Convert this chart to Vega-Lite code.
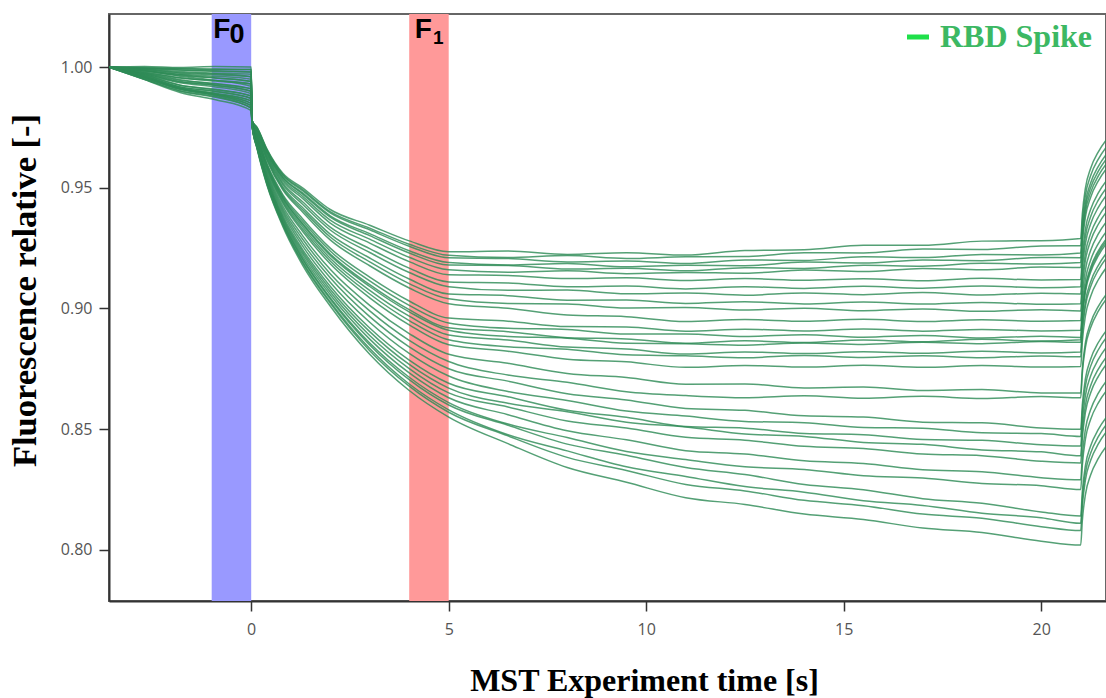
{
"$schema": "https://vega.github.io/schema/vega-lite/v6.json",
"width": 997, "height": 587,
"autosize": {"type": "none"},
"padding": {"left": 109, "top": 14, "right": 0, "bottom": 97},
"background": "white",
"config": {
 "view": {"stroke": "#666666", "strokeWidth": 2},
 "axis": {"grid": false, "domainColor": "#333333", "domainWidth": 2, "tickColor": "#333333", "tickWidth": 1.5, "tickSize": 10, "labelFont": "Open Sans", "labelFontSize": 16, "labelColor": "#555555", "titleFont": "Liberation Serif", "titleFontSize": 32, "titleFontWeight": "bold", "titleColor": "#000000"},
 "axisX": {"labelPadding": 10, "titleX": 535, "titleY": 89, "titleBaseline": "alphabetic", "titleAlign": "center"},
 "axisY": {"labelPadding": 7, "titleX": -74, "titleY": 276, "titleAngle": 270, "titleAlign": "center", "titleBaseline": "alphabetic", "titleFontSize": 34.5}
},
"datasets": {
"traces": [
{"s":1,"t":-3.6,"f":1},{"s":1,"t":-2.7,"f":0.9985},{"s":1,"t":-1.8,"f":0.9962},{"s":1,"t":-0.9,"f":0.9945},{"s":1,"t":0,"f":0.992},{"s":1,"t":0.02,"f":0.978},{"s":1,"t":0.15,"f":0.975},{"s":1,"t":0.4,"f":0.966},{"s":1,"t":0.8,"f":0.956},{"s":1,"t":1.3,"f":0.95},{"s":1,"t":2,"f":0.941},{"s":1,"t":3,"f":0.9345},{"s":1,"t":4,"f":0.928},{"s":1,"t":5,"f":0.9235},{"s":1,"t":6.5,"f":0.9238},{"s":1,"t":8,"f":0.9224},{"s":1,"t":9.5,"f":0.9231},{"s":1,"t":11,"f":0.9221},{"s":1,"t":12.5,"f":0.924},{"s":1,"t":14,"f":0.9243},{"s":1,"t":15.5,"f":0.9262},{"s":1,"t":17,"f":0.9262},{"s":1,"t":18.5,"f":0.9279},{"s":1,"t":20,"f":0.9281},{"s":1,"t":21,"f":0.929},{"s":1,"t":21.04,"f":0.939},{"s":1,"t":21.12,"f":0.95},{"s":1,"t":21.25,"f":0.958},{"s":1,"t":21.45,"f":0.965},{"s":1,"t":21.7,"f":0.971},
{"s":2,"t":-3.6,"f":1},{"s":2,"t":-2.7,"f":0.9968},{"s":2,"t":-1.8,"f":0.9925},{"s":2,"t":-0.9,"f":0.9905},{"s":2,"t":0,"f":0.988},{"s":2,"t":0.02,"f":0.978},{"s":2,"t":0.15,"f":0.9748},{"s":2,"t":0.4,"f":0.9657},{"s":2,"t":0.8,"f":0.9555},{"s":2,"t":1.3,"f":0.9493},{"s":2,"t":2,"f":0.9401},{"s":2,"t":3,"f":0.9333},{"s":2,"t":4,"f":0.9266},{"s":2,"t":5,"f":0.922},{"s":2,"t":6.5,"f":0.9211},{"s":2,"t":8,"f":0.9219},{"s":2,"t":9.5,"f":0.9207},{"s":2,"t":11,"f":0.9214},{"s":2,"t":12.5,"f":0.9215},{"s":2,"t":14,"f":0.9231},{"s":2,"t":15.5,"f":0.923},{"s":2,"t":17,"f":0.9246},{"s":2,"t":18.5,"f":0.9244},{"s":2,"t":20,"f":0.9259},{"s":2,"t":21,"f":0.926},{"s":2,"t":21.04,"f":0.936},{"s":2,"t":21.12,"f":0.947},{"s":2,"t":21.25,"f":0.955},{"s":2,"t":21.45,"f":0.962},{"s":2,"t":21.7,"f":0.968},
{"s":3,"t":-3.6,"f":1},{"s":3,"t":-2.7,"f":0.999},{"s":3,"t":-1.8,"f":0.9978},{"s":3,"t":-0.9,"f":0.9972},{"s":3,"t":0,"f":0.996},{"s":3,"t":0.02,"f":0.9779},{"s":3,"t":0.15,"f":0.9747},{"s":3,"t":0.4,"f":0.9655},{"s":3,"t":0.8,"f":0.9552},{"s":3,"t":1.3,"f":0.9488},{"s":3,"t":2,"f":0.9396},{"s":3,"t":3,"f":0.9326},{"s":3,"t":4,"f":0.9258},{"s":3,"t":5,"f":0.921},{"s":3,"t":6.5,"f":0.9207},{"s":3,"t":8,"f":0.9193},{"s":3,"t":9.5,"f":0.9197},{"s":3,"t":11,"f":0.9186},{"s":3,"t":12.5,"f":0.9201},{"s":3,"t":14,"f":0.9199},{"s":3,"t":15.5,"f":0.9214},{"s":3,"t":17,"f":0.9211},{"s":3,"t":18.5,"f":0.9224},{"s":3,"t":20,"f":0.9222},{"s":3,"t":21,"f":0.923},{"s":3,"t":21.04,"f":0.933},{"s":3,"t":21.12,"f":0.944},{"s":3,"t":21.25,"f":0.952},{"s":3,"t":21.45,"f":0.959},{"s":3,"t":21.7,"f":0.965},
{"s":4,"t":-3.6,"f":1},{"s":4,"t":-2.7,"f":0.9958},{"s":4,"t":-1.8,"f":0.9912},{"s":4,"t":-0.9,"f":0.9888},{"s":4,"t":0,"f":0.985},{"s":4,"t":0.02,"f":0.9779},{"s":4,"t":0.15,"f":0.9744},{"s":4,"t":0.4,"f":0.965},{"s":4,"t":0.8,"f":0.9545},{"s":4,"t":1.3,"f":0.9479},{"s":4,"t":2,"f":0.9384},{"s":4,"t":3,"f":0.931},{"s":4,"t":4,"f":0.9239},{"s":4,"t":5,"f":0.919},{"s":4,"t":6.5,"f":0.918},{"s":4,"t":8,"f":0.9186},{"s":4,"t":9.5,"f":0.9173},{"s":4,"t":11,"f":0.9179},{"s":4,"t":12.5,"f":0.9177},{"s":4,"t":14,"f":0.9192},{"s":4,"t":15.5,"f":0.9188},{"s":4,"t":17,"f":0.9201},{"s":4,"t":18.5,"f":0.9198},{"s":4,"t":20,"f":0.9211},{"s":4,"t":21,"f":0.921},{"s":4,"t":21.04,"f":0.931},{"s":4,"t":21.12,"f":0.942},{"s":4,"t":21.25,"f":0.95},{"s":4,"t":21.45,"f":0.957},{"s":4,"t":21.7,"f":0.963},
{"s":5,"t":-3.6,"f":1},{"s":5,"t":-2.7,"f":0.9996},{"s":5,"t":-1.8,"f":0.9993},{"s":5,"t":-0.9,"f":0.999},{"s":5,"t":0,"f":0.999},{"s":5,"t":0.02,"f":0.9778},{"s":5,"t":0.15,"f":0.9743},{"s":5,"t":0.4,"f":0.9648},{"s":5,"t":0.8,"f":0.9542},{"s":5,"t":1.3,"f":0.9474},{"s":5,"t":2,"f":0.9378},{"s":5,"t":3,"f":0.9302},{"s":5,"t":4,"f":0.923},{"s":5,"t":5,"f":0.918},{"s":5,"t":6.5,"f":0.9178},{"s":5,"t":8,"f":0.9163},{"s":5,"t":9.5,"f":0.9167},{"s":5,"t":11,"f":0.9156},{"s":5,"t":12.5,"f":0.9169},{"s":5,"t":14,"f":0.9166},{"s":5,"t":15.5,"f":0.9179},{"s":5,"t":17,"f":0.9175},{"s":5,"t":18.5,"f":0.9187},{"s":5,"t":20,"f":0.9184},{"s":5,"t":21,"f":0.919},{"s":5,"t":21.04,"f":0.929},{"s":5,"t":21.12,"f":0.94},{"s":5,"t":21.25,"f":0.948},{"s":5,"t":21.45,"f":0.955},{"s":5,"t":21.7,"f":0.961},
{"s":6,"t":-3.6,"f":1},{"s":6,"t":-2.7,"f":0.9972},{"s":6,"t":-1.8,"f":0.994},{"s":6,"t":-0.9,"f":0.9925},{"s":6,"t":0,"f":0.99},{"s":6,"t":0.02,"f":0.9778},{"s":6,"t":0.15,"f":0.974},{"s":6,"t":0.4,"f":0.9644},{"s":6,"t":0.8,"f":0.9536},{"s":6,"t":1.3,"f":0.9465},{"s":6,"t":2,"f":0.9366},{"s":6,"t":3,"f":0.9287},{"s":6,"t":4,"f":0.9212},{"s":6,"t":5,"f":0.916},{"s":6,"t":6.5,"f":0.915},{"s":6,"t":8,"f":0.9156},{"s":6,"t":9.5,"f":0.9144},{"s":6,"t":11,"f":0.9149},{"s":6,"t":12.5,"f":0.9146},{"s":6,"t":14,"f":0.9159},{"s":6,"t":15.5,"f":0.9153},{"s":6,"t":17,"f":0.9166},{"s":6,"t":18.5,"f":0.916},{"s":6,"t":20,"f":0.9172},{"s":6,"t":21,"f":0.917},{"s":6,"t":21.04,"f":0.927},{"s":6,"t":21.12,"f":0.938},{"s":6,"t":21.25,"f":0.946},{"s":6,"t":21.45,"f":0.953},{"s":6,"t":21.7,"f":0.959},
{"s":7,"t":-3.6,"f":1},{"s":7,"t":-2.7,"f":0.995},{"s":7,"t":-1.8,"f":0.9902},{"s":7,"t":-0.9,"f":0.9878},{"s":7,"t":0,"f":0.983},{"s":7,"t":0.02,"f":0.9777},{"s":7,"t":0.15,"f":0.9737},{"s":7,"t":0.4,"f":0.9639},{"s":7,"t":0.8,"f":0.9529},{"s":7,"t":1.3,"f":0.9456},{"s":7,"t":2,"f":0.9354},{"s":7,"t":3,"f":0.9271},{"s":7,"t":4,"f":0.9194},{"s":7,"t":5,"f":0.914},{"s":7,"t":6.5,"f":0.9137},{"s":7,"t":8,"f":0.9124},{"s":7,"t":9.5,"f":0.9127},{"s":7,"t":11,"f":0.9116},{"s":7,"t":12.5,"f":0.9124},{"s":7,"t":14,"f":0.9117},{"s":7,"t":15.5,"f":0.9123},{"s":7,"t":17,"f":0.9115},{"s":7,"t":18.5,"f":0.9125},{"s":7,"t":20,"f":0.9118},{"s":7,"t":21,"f":0.912},{"s":7,"t":21.04,"f":0.922},{"s":7,"t":21.12,"f":0.933},{"s":7,"t":21.25,"f":0.941},{"s":7,"t":21.45,"f":0.948},{"s":7,"t":21.7,"f":0.954},
{"s":8,"t":-3.6,"f":1},{"s":8,"t":-2.7,"f":0.9985},{"s":8,"t":-1.8,"f":0.9968},{"s":8,"t":-0.9,"f":0.9955},{"s":8,"t":0,"f":0.994},{"s":8,"t":0.02,"f":0.9776},{"s":8,"t":0.15,"f":0.9734},{"s":8,"t":0.4,"f":0.9633},{"s":8,"t":0.8,"f":0.952},{"s":8,"t":1.3,"f":0.9442},{"s":8,"t":2,"f":0.9337},{"s":8,"t":3,"f":0.9248},{"s":8,"t":4,"f":0.9167},{"s":8,"t":5,"f":0.911},{"s":8,"t":6.5,"f":0.9106},{"s":8,"t":8,"f":0.909},{"s":8,"t":9.5,"f":0.9093},{"s":8,"t":11,"f":0.9081},{"s":8,"t":12.5,"f":0.909},{"s":8,"t":14,"f":0.9083},{"s":8,"t":15.5,"f":0.9092},{"s":8,"t":17,"f":0.9084},{"s":8,"t":18.5,"f":0.9093},{"s":8,"t":20,"f":0.9086},{"s":8,"t":21,"f":0.909},{"s":8,"t":21.04,"f":0.919},{"s":8,"t":21.12,"f":0.93},{"s":8,"t":21.25,"f":0.938},{"s":8,"t":21.45,"f":0.945},{"s":8,"t":21.7,"f":0.951},
{"s":9,"t":-3.6,"f":1},{"s":9,"t":-2.7,"f":0.9962},{"s":9,"t":-1.8,"f":0.9918},{"s":9,"t":-0.9,"f":0.9898},{"s":9,"t":0,"f":0.987},{"s":9,"t":0.02,"f":0.9776},{"s":9,"t":0.15,"f":0.9731},{"s":9,"t":0.4,"f":0.9628},{"s":9,"t":0.8,"f":0.9513},{"s":9,"t":1.3,"f":0.9432},{"s":9,"t":2,"f":0.9325},{"s":9,"t":3,"f":0.9232},{"s":9,"t":4,"f":0.9149},{"s":9,"t":5,"f":0.909},{"s":9,"t":6.5,"f":0.9075},{"s":9,"t":8,"f":0.9076},{"s":9,"t":9.5,"f":0.9061},{"s":9,"t":11,"f":0.9064},{"s":9,"t":12.5,"f":0.9055},{"s":9,"t":14,"f":0.9064},{"s":9,"t":15.5,"f":0.9057},{"s":9,"t":17,"f":0.9066},{"s":9,"t":18.5,"f":0.9056},{"s":9,"t":20,"f":0.9063},{"s":9,"t":21,"f":0.906},{"s":9,"t":21.04,"f":0.916},{"s":9,"t":21.12,"f":0.927},{"s":9,"t":21.25,"f":0.935},{"s":9,"t":21.45,"f":0.942},{"s":9,"t":21.7,"f":0.948},
{"s":10,"t":-3.6,"f":1},{"s":10,"t":-2.7,"f":0.9992},{"s":10,"t":-1.8,"f":0.9982},{"s":10,"t":-0.9,"f":0.9975},{"s":10,"t":0,"f":0.997},{"s":10,"t":0.02,"f":0.9775},{"s":10,"t":0.15,"f":0.9727},{"s":10,"t":0.4,"f":0.9622},{"s":10,"t":0.8,"f":0.9504},{"s":10,"t":1.3,"f":0.9418},{"s":10,"t":2,"f":0.9308},{"s":10,"t":3,"f":0.9209},{"s":10,"t":4,"f":0.9122},{"s":10,"t":5,"f":0.906},{"s":10,"t":6.5,"f":0.9053},{"s":10,"t":8,"f":0.9034},{"s":10,"t":9.5,"f":0.9035},{"s":10,"t":11,"f":0.9021},{"s":10,"t":12.5,"f":0.9028},{"s":10,"t":14,"f":0.9019},{"s":10,"t":15.5,"f":0.9027},{"s":10,"t":17,"f":0.9018},{"s":10,"t":18.5,"f":0.9025},{"s":10,"t":20,"f":0.9017},{"s":10,"t":21,"f":0.902},{"s":10,"t":21.04,"f":0.912},{"s":10,"t":21.12,"f":0.923},{"s":10,"t":21.25,"f":0.931},{"s":10,"t":21.45,"f":0.938},{"s":10,"t":21.7,"f":0.944},
{"s":11,"t":-3.6,"f":1},{"s":11,"t":-2.7,"f":0.9976},{"s":11,"t":-1.8,"f":0.9948},{"s":11,"t":-0.9,"f":0.993},{"s":11,"t":0,"f":0.991},{"s":11,"t":0.02,"f":0.9774},{"s":11,"t":0.15,"f":0.9724},{"s":11,"t":0.4,"f":0.9617},{"s":11,"t":0.8,"f":0.9497},{"s":11,"t":1.3,"f":0.9409},{"s":11,"t":2,"f":0.9296},{"s":11,"t":3,"f":0.9193},{"s":11,"t":4,"f":0.9103},{"s":11,"t":5,"f":0.904},{"s":11,"t":6.5,"f":0.9021},{"s":11,"t":8,"f":0.9019},{"s":11,"t":9.5,"f":0.9002},{"s":11,"t":11,"f":0.9004},{"s":11,"t":12.5,"f":0.8994},{"s":11,"t":14,"f":0.9001},{"s":11,"t":15.5,"f":0.8991},{"s":11,"t":17,"f":0.8998},{"s":11,"t":18.5,"f":0.8988},{"s":11,"t":20,"f":0.8995},{"s":11,"t":21,"f":0.899},{"s":11,"t":21.04,"f":0.909},{"s":11,"t":21.12,"f":0.92},{"s":11,"t":21.25,"f":0.928},{"s":11,"t":21.45,"f":0.935},{"s":11,"t":21.7,"f":0.941},
{"s":12,"t":-3.6,"f":1},{"s":12,"t":-2.7,"f":0.9955},{"s":12,"t":-1.8,"f":0.9908},{"s":12,"t":-0.9,"f":0.9882},{"s":12,"t":0,"f":0.984},{"s":12,"t":0.02,"f":0.9774},{"s":12,"t":0.15,"f":0.9722},{"s":12,"t":0.4,"f":0.9613},{"s":12,"t":0.8,"f":0.9491},{"s":12,"t":1.3,"f":0.94},{"s":12,"t":2,"f":0.9284},{"s":12,"t":3,"f":0.9177},{"s":12,"t":4,"f":0.9085},{"s":12,"t":5,"f":0.902},{"s":12,"t":6.5,"f":0.9001},{"s":12,"t":8,"f":0.8973},{"s":12,"t":9.5,"f":0.8966},{"s":12,"t":11,"f":0.8946},{"s":12,"t":12.5,"f":0.8954},{"s":12,"t":14,"f":0.8947},{"s":12,"t":15.5,"f":0.8955},{"s":12,"t":17,"f":0.8946},{"s":12,"t":18.5,"f":0.8953},{"s":12,"t":20,"f":0.8947},{"s":12,"t":21,"f":0.895},{"s":12,"t":21.04,"f":0.905},{"s":12,"t":21.12,"f":0.916},{"s":12,"t":21.25,"f":0.924},{"s":12,"t":21.45,"f":0.931},{"s":12,"t":21.7,"f":0.937},
{"s":13,"t":-3.6,"f":1},{"s":13,"t":-2.7,"f":0.9995},{"s":13,"t":-1.8,"f":0.9988},{"s":13,"t":-0.9,"f":0.9985},{"s":13,"t":0,"f":0.998},{"s":13,"t":0.02,"f":0.9772},{"s":13,"t":0.15,"f":0.9714},{"s":13,"t":0.4,"f":0.96},{"s":13,"t":0.8,"f":0.9472},{"s":13,"t":1.3,"f":0.9372},{"s":13,"t":2,"f":0.925},{"s":13,"t":3,"f":0.913},{"s":13,"t":4,"f":0.9031},{"s":13,"t":5,"f":0.896},{"s":13,"t":6.5,"f":0.8947},{"s":13,"t":8,"f":0.8925},{"s":13,"t":9.5,"f":0.8923},{"s":13,"t":11,"f":0.8906},{"s":13,"t":12.5,"f":0.8914},{"s":13,"t":14,"f":0.8907},{"s":13,"t":15.5,"f":0.8915},{"s":13,"t":17,"f":0.8906},{"s":13,"t":18.5,"f":0.8913},{"s":13,"t":20,"f":0.8907},{"s":13,"t":21,"f":0.891},{"s":13,"t":21.04,"f":0.901},{"s":13,"t":21.12,"f":0.912},{"s":13,"t":21.25,"f":0.92},{"s":13,"t":21.45,"f":0.927},{"s":13,"t":21.7,"f":0.933},
{"s":14,"t":-3.6,"f":1},{"s":14,"t":-2.7,"f":0.9968},{"s":14,"t":-1.8,"f":0.9935},{"s":14,"t":-0.9,"f":0.9918},{"s":14,"t":0,"f":0.989},{"s":14,"t":0.02,"f":0.9771},{"s":14,"t":0.15,"f":0.9711},{"s":14,"t":0.4,"f":0.9595},{"s":14,"t":0.8,"f":0.9465},{"s":14,"t":1.3,"f":0.9362},{"s":14,"t":2,"f":0.9238},{"s":14,"t":3,"f":0.9114},{"s":14,"t":4,"f":0.9013},{"s":14,"t":5,"f":0.894},{"s":14,"t":6.5,"f":0.8918},{"s":14,"t":8,"f":0.8913},{"s":14,"t":9.5,"f":0.8894},{"s":14,"t":11,"f":0.8894},{"s":14,"t":12.5,"f":0.8884},{"s":14,"t":14,"f":0.8891},{"s":14,"t":15.5,"f":0.8881},{"s":14,"t":17,"f":0.8888},{"s":14,"t":18.5,"f":0.8878},{"s":14,"t":20,"f":0.8885},{"s":14,"t":21,"f":0.888},{"s":14,"t":21.04,"f":0.898},{"s":14,"t":21.12,"f":0.909},{"s":14,"t":21.25,"f":0.917},{"s":14,"t":21.45,"f":0.924},{"s":14,"t":21.7,"f":0.93},
{"s":15,"t":-3.6,"f":1},{"s":15,"t":-2.7,"f":0.998},{"s":15,"t":-1.8,"f":0.9955},{"s":15,"t":-0.9,"f":0.9945},{"s":15,"t":0,"f":0.993},{"s":15,"t":0.02,"f":0.9771},{"s":15,"t":0.15,"f":0.9709},{"s":15,"t":0.4,"f":0.9591},{"s":15,"t":0.8,"f":0.9459},{"s":15,"t":1.3,"f":0.9353},{"s":15,"t":2,"f":0.9226},{"s":15,"t":3,"f":0.9099},{"s":15,"t":4,"f":0.8995},{"s":15,"t":5,"f":0.892},{"s":15,"t":6.5,"f":0.8904},{"s":15,"t":8,"f":0.8879},{"s":15,"t":9.5,"f":0.8874},{"s":15,"t":11,"f":0.8856},{"s":15,"t":12.5,"f":0.8866},{"s":15,"t":14,"f":0.8859},{"s":15,"t":15.5,"f":0.8869},{"s":15,"t":17,"f":0.8862},{"s":15,"t":18.5,"f":0.8872},{"s":15,"t":20,"f":0.8865},{"s":15,"t":21,"f":0.887},{"s":15,"t":21.04,"f":0.897},{"s":15,"t":21.12,"f":0.908},{"s":15,"t":21.25,"f":0.916},{"s":15,"t":21.45,"f":0.923},{"s":15,"t":21.7,"f":0.929},
{"s":16,"t":-3.6,"f":1},{"s":16,"t":-2.7,"f":0.996},{"s":16,"t":-1.8,"f":0.9912},{"s":16,"t":-0.9,"f":0.989},{"s":16,"t":0,"f":0.986},{"s":16,"t":0.02,"f":0.9771},{"s":16,"t":0.15,"f":0.9707},{"s":16,"t":0.4,"f":0.9589},{"s":16,"t":0.8,"f":0.9456},{"s":16,"t":1.3,"f":0.9348},{"s":16,"t":2,"f":0.922},{"s":16,"t":3,"f":0.9091},{"s":16,"t":4,"f":0.8986},{"s":16,"t":5,"f":0.891},{"s":16,"t":6.5,"f":0.8884},{"s":16,"t":8,"f":0.8877},{"s":16,"t":9.5,"f":0.8856},{"s":16,"t":11,"f":0.8854},{"s":16,"t":12.5,"f":0.8848},{"s":16,"t":14,"f":0.8857},{"s":16,"t":15.5,"f":0.8851},{"s":16,"t":17,"f":0.886},{"s":16,"t":18.5,"f":0.8854},{"s":16,"t":20,"f":0.8863},{"s":16,"t":21,"f":0.886},{"s":16,"t":21.04,"f":0.896},{"s":16,"t":21.12,"f":0.907},{"s":16,"t":21.25,"f":0.915},{"s":16,"t":21.45,"f":0.922},{"s":16,"t":21.7,"f":0.928},
{"s":17,"t":-3.6,"f":1},{"s":17,"t":-2.7,"f":1.0003},{"s":17,"t":-1.8,"f":0.9998},{"s":17,"t":-0.9,"f":1.0002},{"s":17,"t":0,"f":1},{"s":17,"t":0.02,"f":0.977},{"s":17,"t":0.15,"f":0.9705},{"s":17,"t":0.4,"f":0.9584},{"s":17,"t":0.8,"f":0.9449},{"s":17,"t":1.3,"f":0.9339},{"s":17,"t":2,"f":0.9208},{"s":17,"t":3,"f":0.9075},{"s":17,"t":4,"f":0.8968},{"s":17,"t":5,"f":0.889},{"s":17,"t":6.5,"f":0.8869},{"s":17,"t":8,"f":0.884},{"s":17,"t":9.5,"f":0.8832},{"s":17,"t":11,"f":0.8811},{"s":17,"t":12.5,"f":0.882},{"s":17,"t":14,"f":0.8813},{"s":17,"t":15.5,"f":0.8821},{"s":17,"t":17,"f":0.8814},{"s":17,"t":18.5,"f":0.8823},{"s":17,"t":20,"f":0.8816},{"s":17,"t":21,"f":0.882},{"s":17,"t":21.04,"f":0.892},{"s":17,"t":21.12,"f":0.903},{"s":17,"t":21.25,"f":0.911},{"s":17,"t":21.45,"f":0.918},{"s":17,"t":21.7,"f":0.924},
{"s":18,"t":-3.6,"f":1},{"s":18,"t":-2.7,"f":0.9948},{"s":18,"t":-1.8,"f":0.9895},{"s":18,"t":-0.9,"f":0.9865},{"s":18,"t":0,"f":0.982},{"s":18,"t":0.02,"f":0.9769},{"s":18,"t":0.15,"f":0.9702},{"s":18,"t":0.4,"f":0.958},{"s":18,"t":0.8,"f":0.9443},{"s":18,"t":1.3,"f":0.9329},{"s":18,"t":2,"f":0.9197},{"s":18,"t":3,"f":0.906},{"s":18,"t":4,"f":0.895},{"s":18,"t":5,"f":0.887},{"s":18,"t":6.5,"f":0.8841},{"s":18,"t":8,"f":0.8831},{"s":18,"t":9.5,"f":0.8808},{"s":18,"t":11,"f":0.8804},{"s":18,"t":12.5,"f":0.8796},{"s":18,"t":14,"f":0.8805},{"s":18,"t":15.5,"f":0.8797},{"s":18,"t":17,"f":0.8804},{"s":18,"t":18.5,"f":0.8796},{"s":18,"t":20,"f":0.8803},{"s":18,"t":21,"f":0.88},{"s":18,"t":21.04,"f":0.89},{"s":18,"t":21.12,"f":0.901},{"s":18,"t":21.25,"f":0.909},{"s":18,"t":21.45,"f":0.916},{"s":18,"t":21.7,"f":0.922},
{"s":19,"t":-3.6,"f":1},{"s":19,"t":-2.7,"f":0.9986},{"s":19,"t":-1.8,"f":0.997},{"s":19,"t":-0.9,"f":0.9962},{"s":19,"t":0,"f":0.995},{"s":19,"t":0.02,"f":0.9769},{"s":19,"t":0.15,"f":0.9699},{"s":19,"t":0.4,"f":0.9576},{"s":19,"t":0.8,"f":0.9436},{"s":19,"t":1.3,"f":0.932},{"s":19,"t":2,"f":0.9185},{"s":19,"t":3,"f":0.9044},{"s":19,"t":4,"f":0.8932},{"s":19,"t":5,"f":0.885},{"s":19,"t":6.5,"f":0.8823},{"s":19,"t":8,"f":0.879},{"s":19,"t":9.5,"f":0.8779},{"s":19,"t":11,"f":0.8756},{"s":19,"t":12.5,"f":0.8764},{"s":19,"t":14,"f":0.8757},{"s":19,"t":15.5,"f":0.8765},{"s":19,"t":17,"f":0.8756},{"s":19,"t":18.5,"f":0.8764},{"s":19,"t":20,"f":0.8757},{"s":19,"t":21,"f":0.876},{"s":19,"t":21.04,"f":0.886},{"s":19,"t":21.12,"f":0.897},{"s":19,"t":21.25,"f":0.905},{"s":19,"t":21.45,"f":0.912},{"s":19,"t":21.7,"f":0.918},
{"s":20,"t":-3.6,"f":1},{"s":20,"t":-2.7,"f":0.9972},{"s":20,"t":-1.8,"f":0.9938},{"s":20,"t":-0.9,"f":0.9924},{"s":20,"t":0,"f":0.99},{"s":20,"t":0.02,"f":0.9768},{"s":20,"t":0.15,"f":0.9694},{"s":20,"t":0.4,"f":0.9567},{"s":20,"t":0.8,"f":0.9424},{"s":20,"t":1.3,"f":0.9302},{"s":20,"t":2,"f":0.9162},{"s":20,"t":3,"f":0.9013},{"s":20,"t":4,"f":0.8896},{"s":20,"t":5,"f":0.881},{"s":20,"t":6.5,"f":0.8773},{"s":20,"t":8,"f":0.8731},{"s":20,"t":9.5,"f":0.8714},{"s":20,"t":11,"f":0.8686},{"s":20,"t":12.5,"f":0.8687},{"s":20,"t":14,"f":0.8671},{"s":20,"t":15.5,"f":0.8675},{"s":20,"t":17,"f":0.866},{"s":20,"t":18.5,"f":0.8664},{"s":20,"t":20,"f":0.865},{"s":20,"t":21,"f":0.865},{"s":20,"t":21.04,"f":0.875},{"s":20,"t":21.12,"f":0.886},{"s":20,"t":21.25,"f":0.894},{"s":20,"t":21.45,"f":0.901},{"s":20,"t":21.7,"f":0.907},
{"s":21,"t":-3.6,"f":1},{"s":21,"t":-2.7,"f":0.9964},{"s":21,"t":-1.8,"f":0.9918},{"s":21,"t":-0.9,"f":0.99},{"s":21,"t":0,"f":0.987},{"s":21,"t":0.02,"f":0.9767},{"s":21,"t":0.15,"f":0.969},{"s":21,"t":0.4,"f":0.956},{"s":21,"t":0.8,"f":0.9414},{"s":21,"t":1.3,"f":0.9288},{"s":21,"t":2,"f":0.9144},{"s":21,"t":3,"f":0.899},{"s":21,"t":4,"f":0.8868},{"s":21,"t":5,"f":0.878},{"s":21,"t":6.5,"f":0.8724},{"s":21,"t":8,"f":0.8694},{"s":21,"t":9.5,"f":0.8655},{"s":21,"t":11,"f":0.8639},{"s":21,"t":12.5,"f":0.863},{"s":21,"t":14,"f":0.8638},{"s":21,"t":15.5,"f":0.8628},{"s":21,"t":17,"f":0.8636},{"s":21,"t":18.5,"f":0.8627},{"s":21,"t":20,"f":0.8635},{"s":21,"t":21,"f":0.863},{"s":21,"t":21.04,"f":0.873},{"s":21,"t":21.12,"f":0.884},{"s":21,"t":21.25,"f":0.892},{"s":21,"t":21.45,"f":0.899},{"s":21,"t":21.7,"f":0.905},
{"s":22,"t":-3.6,"f":1},{"s":22,"t":-2.7,"f":0.9978},{"s":22,"t":-1.8,"f":0.9956},{"s":22,"t":-0.9,"f":0.9942},{"s":22,"t":0,"f":0.993},{"s":22,"t":0.02,"f":0.9766},{"s":22,"t":0.15,"f":0.9686},{"s":22,"t":0.4,"f":0.9554},{"s":22,"t":0.8,"f":0.9404},{"s":22,"t":1.3,"f":0.9273},{"s":22,"t":2,"f":0.9127},{"s":22,"t":3,"f":0.8966},{"s":22,"t":4,"f":0.8841},{"s":22,"t":5,"f":0.875},{"s":22,"t":6.5,"f":0.8699},{"s":22,"t":8,"f":0.8647},{"s":22,"t":9.5,"f":0.8621},{"s":22,"t":11,"f":0.8586},{"s":22,"t":12.5,"f":0.8578},{"s":22,"t":14,"f":0.8555},{"s":22,"t":15.5,"f":0.855},{"s":22,"t":17,"f":0.8529},{"s":22,"t":18.5,"f":0.8526},{"s":22,"t":20,"f":0.8505},{"s":22,"t":21,"f":0.85},{"s":22,"t":21.04,"f":0.86},{"s":22,"t":21.12,"f":0.871},{"s":22,"t":21.25,"f":0.879},{"s":22,"t":21.45,"f":0.886},{"s":22,"t":21.7,"f":0.892},
{"s":23,"t":-3.6,"f":1},{"s":23,"t":-2.7,"f":0.9956},{"s":23,"t":-1.8,"f":0.991},{"s":23,"t":-0.9,"f":0.9885},{"s":23,"t":0,"f":0.985},{"s":23,"t":0.02,"f":0.9765},{"s":23,"t":0.15,"f":0.9682},{"s":23,"t":0.4,"f":0.9547},{"s":23,"t":0.8,"f":0.9395},{"s":23,"t":1.3,"f":0.9259},{"s":23,"t":2,"f":0.9109},{"s":23,"t":3,"f":0.8943},{"s":23,"t":4,"f":0.8814},{"s":23,"t":5,"f":0.872},{"s":23,"t":6.5,"f":0.8656},{"s":23,"t":8,"f":0.8619},{"s":23,"t":9.5,"f":0.8575},{"s":23,"t":11,"f":0.8554},{"s":23,"t":12.5,"f":0.8532},{"s":23,"t":14,"f":0.8527},{"s":23,"t":15.5,"f":0.8507},{"s":23,"t":17,"f":0.8504},{"s":23,"t":18.5,"f":0.8485},{"s":23,"t":20,"f":0.8482},{"s":23,"t":21,"f":0.847},{"s":23,"t":21.04,"f":0.857},{"s":23,"t":21.12,"f":0.868},{"s":23,"t":21.25,"f":0.876},{"s":23,"t":21.45,"f":0.883},{"s":23,"t":21.7,"f":0.889},
{"s":24,"t":-3.6,"f":1},{"s":24,"t":-2.7,"f":0.9994},{"s":24,"t":-1.8,"f":0.9988},{"s":24,"t":-0.9,"f":0.9982},{"s":24,"t":0,"f":0.998},{"s":24,"t":0.02,"f":0.9764},{"s":24,"t":0.15,"f":0.9678},{"s":24,"t":0.4,"f":0.9541},{"s":24,"t":0.8,"f":0.9385},{"s":24,"t":1.3,"f":0.9245},{"s":24,"t":2,"f":0.9092},{"s":24,"t":3,"f":0.8919},{"s":24,"t":4,"f":0.8786},{"s":24,"t":5,"f":0.869},{"s":24,"t":6.5,"f":0.8634},{"s":24,"t":8,"f":0.8578},{"s":24,"t":9.5,"f":0.8549},{"s":24,"t":11,"f":0.8511},{"s":24,"t":12.5,"f":0.8504},{"s":24,"t":14,"f":0.8482},{"s":24,"t":15.5,"f":0.8477},{"s":24,"t":17,"f":0.8457},{"s":24,"t":18.5,"f":0.8454},{"s":24,"t":20,"f":0.8435},{"s":24,"t":21,"f":0.843},{"s":24,"t":21.04,"f":0.853},{"s":24,"t":21.12,"f":0.864},{"s":24,"t":21.25,"f":0.872},{"s":24,"t":21.45,"f":0.879},{"s":24,"t":21.7,"f":0.885},
{"s":25,"t":-3.6,"f":1},{"s":25,"t":-2.7,"f":0.9975},{"s":25,"t":-1.8,"f":0.9945},{"s":25,"t":-0.9,"f":0.9932},{"s":25,"t":0,"f":0.991},{"s":25,"t":0.02,"f":0.9763},{"s":25,"t":0.15,"f":0.9676},{"s":25,"t":0.4,"f":0.9536},{"s":25,"t":0.8,"f":0.9378},{"s":25,"t":1.3,"f":0.9236},{"s":25,"t":2,"f":0.908},{"s":25,"t":3,"f":0.8904},{"s":25,"t":4,"f":0.8768},{"s":25,"t":5,"f":0.867},{"s":25,"t":6.5,"f":0.8607},{"s":25,"t":8,"f":0.8572},{"s":25,"t":9.5,"f":0.8529},{"s":25,"t":11,"f":0.8509},{"s":25,"t":12.5,"f":0.848},{"s":25,"t":14,"f":0.847},{"s":25,"t":15.5,"f":0.8445},{"s":25,"t":17,"f":0.8437},{"s":25,"t":18.5,"f":0.8414},{"s":25,"t":20,"f":0.8406},{"s":25,"t":21,"f":0.839},{"s":25,"t":21.04,"f":0.849},{"s":25,"t":21.12,"f":0.86},{"s":25,"t":21.25,"f":0.868},{"s":25,"t":21.45,"f":0.875},{"s":25,"t":21.7,"f":0.881},
{"s":26,"t":-3.6,"f":1},{"s":26,"t":-2.7,"f":0.995},{"s":26,"t":-1.8,"f":0.99},{"s":26,"t":-0.9,"f":0.9875},{"s":26,"t":0,"f":0.983},{"s":26,"t":0.02,"f":0.9763},{"s":26,"t":0.15,"f":0.9673},{"s":26,"t":0.4,"f":0.9532},{"s":26,"t":0.8,"f":0.9372},{"s":26,"t":1.3,"f":0.9227},{"s":26,"t":2,"f":0.9068},{"s":26,"t":3,"f":0.8888},{"s":26,"t":4,"f":0.8751},{"s":26,"t":5,"f":0.865},{"s":26,"t":6.5,"f":0.8592},{"s":26,"t":8,"f":0.8534},{"s":26,"t":9.5,"f":0.8505},{"s":26,"t":11,"f":0.8466},{"s":26,"t":12.5,"f":0.8454},{"s":26,"t":14,"f":0.8429},{"s":26,"t":15.5,"f":0.842},{"s":26,"t":17,"f":0.8397},{"s":26,"t":18.5,"f":0.839},{"s":26,"t":20,"f":0.8367},{"s":26,"t":21,"f":0.836},{"s":26,"t":21.04,"f":0.846},{"s":26,"t":21.12,"f":0.857},{"s":26,"t":21.25,"f":0.865},{"s":26,"t":21.45,"f":0.872},{"s":26,"t":21.7,"f":0.878},
{"s":27,"t":-3.6,"f":1},{"s":27,"t":-2.7,"f":0.999},{"s":27,"t":-1.8,"f":0.9975},{"s":27,"t":-0.9,"f":0.9968},{"s":27,"t":0,"f":0.996},{"s":27,"t":0.02,"f":0.9762},{"s":27,"t":0.15,"f":0.9671},{"s":27,"t":0.4,"f":0.9528},{"s":27,"t":0.8,"f":0.9366},{"s":27,"t":1.3,"f":0.9217},{"s":27,"t":2,"f":0.9057},{"s":27,"t":3,"f":0.8873},{"s":27,"t":4,"f":0.8733},{"s":27,"t":5,"f":0.863},{"s":27,"t":6.5,"f":0.856},{"s":27,"t":8,"f":0.8493},{"s":27,"t":9.5,"f":0.8456},{"s":27,"t":11,"f":0.8411},{"s":27,"t":12.5,"f":0.8397},{"s":27,"t":14,"f":0.8369},{"s":27,"t":15.5,"f":0.8358},{"s":27,"t":17,"f":0.8332},{"s":27,"t":18.5,"f":0.8324},{"s":27,"t":20,"f":0.8299},{"s":27,"t":21,"f":0.829},{"s":27,"t":21.04,"f":0.839},{"s":27,"t":21.12,"f":0.85},{"s":27,"t":21.25,"f":0.858},{"s":27,"t":21.45,"f":0.865},{"s":27,"t":21.7,"f":0.871},
{"s":28,"t":-3.6,"f":1},{"s":28,"t":-2.7,"f":0.9966},{"s":28,"t":-1.8,"f":0.9925},{"s":28,"t":-0.9,"f":0.9908},{"s":28,"t":0,"f":0.988},{"s":28,"t":0.02,"f":0.9762},{"s":28,"t":0.15,"f":0.9668},{"s":28,"t":0.4,"f":0.9523},{"s":28,"t":0.8,"f":0.9359},{"s":28,"t":1.3,"f":0.9208},{"s":28,"t":2,"f":0.9045},{"s":28,"t":3,"f":0.8857},{"s":28,"t":4,"f":0.8715},{"s":28,"t":5,"f":0.861},{"s":28,"t":6.5,"f":0.8521},{"s":28,"t":8,"f":0.8465},{"s":28,"t":9.5,"f":0.8407},{"s":28,"t":11,"f":0.8374},{"s":28,"t":12.5,"f":0.8344},{"s":28,"t":14,"f":0.8333},{"s":28,"t":15.5,"f":0.8307},{"s":28,"t":17,"f":0.8298},{"s":28,"t":18.5,"f":0.8275},{"s":28,"t":20,"f":0.8266},{"s":28,"t":21,"f":0.825},{"s":28,"t":21.04,"f":0.835},{"s":28,"t":21.12,"f":0.846},{"s":28,"t":21.25,"f":0.854},{"s":28,"t":21.45,"f":0.861},{"s":28,"t":21.7,"f":0.867},
{"s":29,"t":-3.6,"f":1},{"s":29,"t":-2.7,"f":0.9984},{"s":29,"t":-1.8,"f":0.9965},{"s":29,"t":-0.9,"f":0.9955},{"s":29,"t":0,"f":0.994},{"s":29,"t":0.02,"f":0.9761},{"s":29,"t":0.15,"f":0.9667},{"s":29,"t":0.4,"f":0.9521},{"s":29,"t":0.8,"f":0.9356},{"s":29,"t":1.3,"f":0.9203},{"s":29,"t":2,"f":0.9039},{"s":29,"t":3,"f":0.8849},{"s":29,"t":4,"f":0.8705},{"s":29,"t":5,"f":0.86},{"s":29,"t":6.5,"f":0.8516},{"s":29,"t":8,"f":0.8438},{"s":29,"t":9.5,"f":0.8392},{"s":29,"t":11,"f":0.8341},{"s":29,"t":12.5,"f":0.8312},{"s":29,"t":14,"f":0.8271},{"s":29,"t":15.5,"f":0.8249},{"s":29,"t":17,"f":0.8212},{"s":29,"t":18.5,"f":0.8193},{"s":29,"t":20,"f":0.8157},{"s":29,"t":21,"f":0.814},{"s":29,"t":21.04,"f":0.824},{"s":29,"t":21.12,"f":0.835},{"s":29,"t":21.25,"f":0.843},{"s":29,"t":21.45,"f":0.85},{"s":29,"t":21.7,"f":0.856},
{"s":30,"t":-3.6,"f":1},{"s":30,"t":-2.7,"f":0.996},{"s":30,"t":-1.8,"f":0.9915},{"s":30,"t":-0.9,"f":0.9892},{"s":30,"t":0,"f":0.986},{"s":30,"t":0.02,"f":0.9761},{"s":30,"t":0.15,"f":0.9664},{"s":30,"t":0.4,"f":0.9517},{"s":30,"t":0.8,"f":0.935},{"s":30,"t":1.3,"f":0.9194},{"s":30,"t":2,"f":0.9028},{"s":30,"t":3,"f":0.8834},{"s":30,"t":4,"f":0.8687},{"s":30,"t":5,"f":0.858},{"s":30,"t":6.5,"f":0.8477},{"s":30,"t":8,"f":0.841},{"s":30,"t":9.5,"f":0.8344},{"s":30,"t":11,"f":0.8304},{"s":30,"t":12.5,"f":0.8262},{"s":30,"t":14,"f":0.8239},{"s":30,"t":15.5,"f":0.8203},{"s":30,"t":17,"f":0.8184},{"s":30,"t":18.5,"f":0.8152},{"s":30,"t":20,"f":0.8133},{"s":30,"t":21,"f":0.811},{"s":30,"t":21.04,"f":0.821},{"s":30,"t":21.12,"f":0.832},{"s":30,"t":21.25,"f":0.84},{"s":30,"t":21.45,"f":0.847},{"s":30,"t":21.7,"f":0.853},
{"s":31,"t":-3.6,"f":1},{"s":31,"t":-2.7,"f":0.9998},{"s":31,"t":-1.8,"f":0.9994},{"s":31,"t":-0.9,"f":0.9992},{"s":31,"t":0,"f":0.999},{"s":31,"t":0.02,"f":0.9761},{"s":31,"t":0.15,"f":0.9663},{"s":31,"t":0.4,"f":0.9514},{"s":31,"t":0.8,"f":0.9346},{"s":31,"t":1.3,"f":0.9189},{"s":31,"t":2,"f":0.9022},{"s":31,"t":3,"f":0.8825},{"s":31,"t":4,"f":0.8678},{"s":31,"t":5,"f":0.857},{"s":31,"t":6.5,"f":0.8472},{"s":31,"t":8,"f":0.8383},{"s":31,"t":9.5,"f":0.8329},{"s":31,"t":11,"f":0.8271},{"s":31,"t":12.5,"f":0.8244},{"s":31,"t":14,"f":0.8205},{"s":31,"t":15.5,"f":0.8183},{"s":31,"t":17,"f":0.8148},{"s":31,"t":18.5,"f":0.8131},{"s":31,"t":20,"f":0.8096},{"s":31,"t":21,"f":0.808},{"s":31,"t":21.04,"f":0.818},{"s":31,"t":21.12,"f":0.829},{"s":31,"t":21.25,"f":0.837},{"s":31,"t":21.45,"f":0.844},{"s":31,"t":21.7,"f":0.85},
{"s":32,"t":-3.6,"f":1},{"s":32,"t":-2.7,"f":0.9955},{"s":32,"t":-1.8,"f":0.9908},{"s":32,"t":-0.9,"f":0.9885},{"s":32,"t":0,"f":0.984},{"s":32,"t":0.02,"f":0.976},{"s":32,"t":0.15,"f":0.966},{"s":32,"t":0.4,"f":0.951},{"s":32,"t":0.8,"f":0.934},{"s":32,"t":1.3,"f":0.918},{"s":32,"t":2,"f":0.901},{"s":32,"t":3,"f":0.881},{"s":32,"t":4,"f":0.866},{"s":32,"t":5,"f":0.855},{"s":32,"t":6.5,"f":0.844},{"s":32,"t":8,"f":0.8341},{"s":32,"t":9.5,"f":0.828},{"s":32,"t":11,"f":0.8216},{"s":32,"t":12.5,"f":0.8188},{"s":32,"t":14,"f":0.8148},{"s":32,"t":15.5,"f":0.8126},{"s":32,"t":17,"f":0.809},{"s":32,"t":18.5,"f":0.8072},{"s":32,"t":20,"f":0.8036},{"s":32,"t":21,"f":0.802},{"s":32,"t":21.04,"f":0.812},{"s":32,"t":21.12,"f":0.823},{"s":32,"t":21.25,"f":0.831},{"s":32,"t":21.45,"f":0.838},{"s":32,"t":21.7,"f":0.844}
]
},
"layer": [
 {"data": {"values": [{"start": -1, "end": 0}]}, "mark": {"type": "rect", "color": "#9999ff"},
  "encoding": {"x": {"field": "start", "type": "quantitative", "title": "MST Experiment time [s]"}, "x2": {"field": "end"}}},
 {"data": {"values": [{"start": 4, "end": 5}]}, "mark": {"type": "rect", "color": "#ff9999"},
  "encoding": {"x": {"field": "start", "type": "quantitative", "title": "MST Experiment time [s]"}, "x2": {"field": "end"}}},
 {"data": {"name": "traces"}, "mark": {"type": "line", "color": "#2e8b57", "strokeWidth": 1.5, "strokeOpacity": 0.82, "clip": true, "interpolate": "monotone"},
  "encoding": {
   "x": {"field": "t", "type": "quantitative", "title": "MST Experiment time [s]", "scale": {"domain": [-3.6, 21.64], "nice": false, "zero": false}, "axis": {"values": [0, 5, 10, 15, 20]}},
   "y": {"field": "f", "type": "quantitative", "title": "Fluorescence relative [-]", "scale": {"domain": [0.7788, 1.022], "nice": false, "zero": false}, "axis": {"values": [0.8, 0.85, 0.9, 0.95, 1.0], "format": ".2f"}},
   "detail": {"field": "s", "type": "nominal"}
  }},
 {"data": {"values": [{"t": -10, "f": 0.5}]}, "mark": {"type": "line", "clip": true, "strokeWidth": 5},
  "encoding": {
   "x": {"field": "t", "type": "quantitative", "title": "MST Experiment time [s]"},
   "y": {"field": "f", "type": "quantitative", "title": "Fluorescence relative [-]"},
   "color": {"datum": "RBD Spike", "scale": {"range": ["#1fe04a"]},
     "legend": {"orient": "none", "legendX": 793, "legendY": 7, "title": null, "padding": 0, "symbolType": "stroke", "symbolSize": 484, "symbolStrokeWidth": 5, "labelFont": "Liberation Serif", "labelFontSize": 32, "labelFontWeight": "bold", "labelColor": "#3cb863", "labelOffset": 6}}
  }},
 {"data": {"values": [{"t": -0.5, "lab": "F"}]}, "mark": {"type": "text", "font": "Liberation Sans", "fontWeight": "bold", "fontSize": 28, "align": "right", "baseline": "alphabetic", "dx": -1, "color": "#000000"},
  "encoding": {"x": {"field": "t", "type": "quantitative", "title": "MST Experiment time [s]"}, "y": {"datum": 1.012, "type": "quantitative", "title": "Fluorescence relative [-]"}, "text": {"field": "lab"}}},
 {"data": {"values": [{"t": 4.5, "lab": "F"}]}, "mark": {"type": "text", "font": "Liberation Sans", "fontWeight": "bold", "fontSize": 28, "align": "right", "baseline": "alphabetic", "dx": 3, "color": "#000000"},
  "encoding": {"x": {"field": "t", "type": "quantitative", "title": "MST Experiment time [s]"}, "y": {"datum": 1.012, "type": "quantitative", "title": "Fluorescence relative [-]"}, "text": {"field": "lab"}}},
 {"data": {"values": [{"t": -0.5, "lab": "0"}]}, "mark": {"type": "text", "font": "Liberation Sans", "fontWeight": "bold", "fontSize": 27, "align": "left", "baseline": "alphabetic", "dx": -2, "color": "#000000"},
  "encoding": {"x": {"field": "t", "type": "quantitative", "title": "MST Experiment time [s]"}, "y": {"datum": 1.0099, "type": "quantitative", "title": "Fluorescence relative [-]"}, "text": {"field": "lab"}}},
 {"data": {"values": [{"t": 4.5, "lab": "1"}]}, "mark": {"type": "text", "font": "Liberation Sans", "fontWeight": "bold", "fontSize": 19, "align": "left", "baseline": "alphabetic", "dx": 4, "color": "#000000"},
  "encoding": {"x": {"field": "t", "type": "quantitative", "title": "MST Experiment time [s]"}, "y": {"datum": 1.0095, "type": "quantitative", "title": "Fluorescence relative [-]"}, "text": {"field": "lab"}}}
]
}
